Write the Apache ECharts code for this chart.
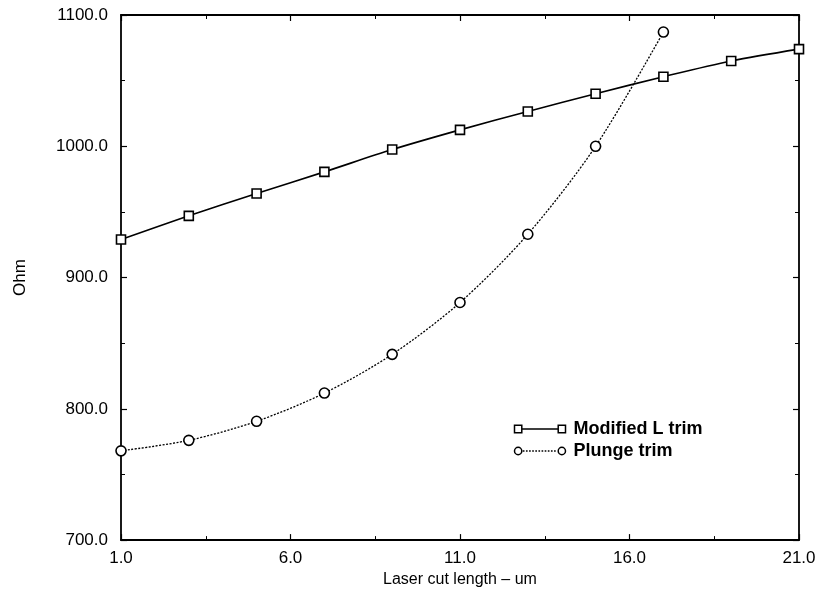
<!DOCTYPE html>
<html>
<head>
<meta charset="utf-8">
<script src="https://cdn.jsdelivr.net/npm/echarts@6/dist/echarts.min.js"></script>
<style>html,body{margin:0;padding:0;background:#fff}#c{width:819px;height:593px}</style>
</head>
<body>
<div id="c"></div>
<script>
const modifiedX = [1, 3, 5, 7, 9, 11, 13, 15, 17, 19, 21];
const modifiedY = [929, 947, 964, 980.5, 997.5, 1012.5, 1026.5, 1040, 1053, 1065, 1074];
const plungeX = [1, 3, 5, 7, 9, 11, 13, 15, 17];
const plungeY = [768, 776, 790.5, 812, 841.5, 881, 933, 1000, 1087];
const seriesNames = ['Modified L trim', 'Plunge trim'];
const xTitle = 'Laser cut length \u2013 um';
const yTitle = 'Ohm';

const pair = (xs, ys) => xs.map((x, i) => [x, ys[i]]);
const FONT = 'Liberation Sans, Arial, Helvetica, sans-serif';

const chart = echarts.init(document.getElementById('c'), null, {renderer: 'canvas'});

const baseAxisLine = {show: true, lineStyle: {color: '#000', width: 1.8}};
const tick = {show: true, inside: true, length: 6, lineStyle: {color: '#000', width: 1.2}};
const minor = {show: true, splitNumber: 2, length: 4, lineStyle: {color: '#000', width: 1}};

// legend icons: marker - line - marker
const sqIcon = 'path://M1,1 L8,1 L8,8 L1,8 Z M8,4.5 L43,4.5 M43,1 L50,1 L50,8 L43,8 Z';
let dashes = '';
for (let x = 9; x < 42; x += 3) dashes += ' M' + x + ',4.5 L' + (x + 1.6) + ',4.5';
const ciIcon = 'path://M1,4.5 A3.5,3.5 0 1 1 8,4.5 A3.5,3.5 0 1 1 1,4.5 Z' + dashes +
  ' M43,4.5 A3.5,3.5 0 1 1 50,4.5 A3.5,3.5 0 1 1 43,4.5 Z';

chart.setOption({
  animation: false,
  backgroundColor: '#fff',
  grid: {left: 121, right: 20, top: 15, bottom: 52, containLabel: false},
  legend: {
    left: 507, top: 415, orient: 'vertical', itemGap: 4,
    itemWidth: 51, itemHeight: 9,
    textStyle: {fontFamily: FONT, fontSize: 18, fontWeight: 'bold', color: '#000', padding: [0, 0, 0, 3]},
    data: [
      {name: seriesNames[0], icon: sqIcon, itemStyle: {color: 'none', borderColor: '#000', borderWidth: 1.5}},
      {name: seriesNames[1], icon: ciIcon, itemStyle: {color: 'none', borderColor: '#000', borderWidth: 1.5}}
    ]
  },
  xAxis: [
    {
      type: 'value', min: 1, max: 21, interval: 5, position: 'bottom',
      name: xTitle, nameLocation: 'middle', nameGap: 30,
      nameTextStyle: {fontFamily: FONT, fontSize: 16, color: '#000'},
      axisLine: baseAxisLine, axisTick: tick, minorTick: minor,
      splitLine: {show: false},
      axisLabel: {fontFamily: FONT, fontSize: 17, color: '#000', margin: 10, formatter: v => v.toFixed(1), showMinLabel: true, showMaxLabel: true}
    },
    {
      type: 'value', min: 1, max: 21, interval: 5, position: 'top',
      axisLine: baseAxisLine, axisTick: tick, minorTick: minor,
      splitLine: {show: false}, axisLabel: {show: false}
    }
  ],
  yAxis: [
    {
      type: 'value', min: 700, max: 1100, interval: 100, position: 'left',
      name: yTitle, nameLocation: 'middle', nameGap: 92, nameRotate: 90,
      nameTextStyle: {fontFamily: FONT, fontSize: 17, color: '#000'},
      axisLine: baseAxisLine, axisTick: tick, minorTick: minor,
      splitLine: {show: false},
      axisLabel: {fontFamily: FONT, fontSize: 17, color: '#000', margin: 13, formatter: v => v.toFixed(1)}
    },
    {
      type: 'value', min: 700, max: 1100, interval: 100, position: 'right',
      axisLine: baseAxisLine, axisTick: tick, minorTick: minor,
      splitLine: {show: false}, axisLabel: {show: false}
    }
  ],
  series: [
    {
      name: seriesNames[0], type: 'line', xAxisIndex: 0, yAxisIndex: 0,
      data: pair(modifiedX, modifiedY), smooth: 0.3,
      symbol: 'rect', symbolSize: 9,
      lineStyle: {color: '#000', width: 1.6},
      itemStyle: {color: '#fff', borderColor: '#000', borderWidth: 1.6}
    },
    {
      name: seriesNames[1], type: 'line', xAxisIndex: 0, yAxisIndex: 0,
      data: pair(plungeX, plungeY), smooth: 0.3,
      symbol: 'circle', symbolSize: 10,
      lineStyle: {color: '#000', width: 1.3, type: [2, 1.5]},
      itemStyle: {color: '#fff', borderColor: '#000', borderWidth: 1.6}
    }
  ]
});
</script>
</body>
</html>
